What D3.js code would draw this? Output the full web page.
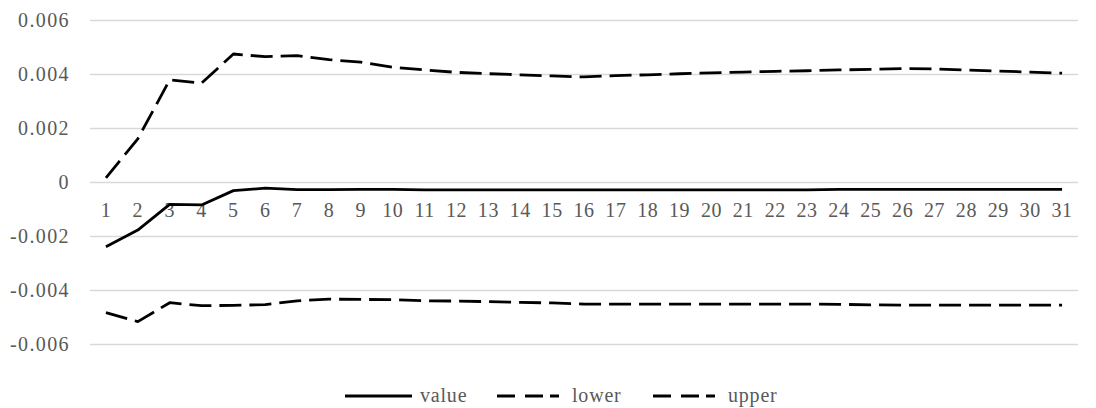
<!DOCTYPE html>
<html>
<head>
<meta charset="utf-8">
<script src="https://cdn.jsdelivr.net/npm/d3@7"></script>
<style>
  html, body { margin: 0; padding: 0; background: #fff; }
</style>
</head>
<body>
<svg id="chart" width="1096" height="408"></svg>
<script>
const categories = d3.range(1, 32).map(String);
const yTicks = [-0.006, -0.004, -0.002, 0, 0.002, 0.004, 0.006];
const yTickLabels = ["-0.006", "-0.004", "-0.002", "0", "0.002", "0.004", "0.006"];

const valueSeries = [-0.0024, -0.00178, -0.00083, -0.00085, -0.00032, -0.00023, -0.00028, -0.00028, -0.00027,
  -0.00027, -0.00029, -0.00029, -0.00029, -0.00029, -0.00029, -0.00029, -0.00029, -0.00029, -0.00029,
  -0.00029, -0.00029, -0.00029, -0.00029, -0.00027, -0.00027, -0.00027, -0.00027, -0.00027, -0.00027,
  -0.00027, -0.00027];
const lowerSeries = [-0.00484, -0.00517, -0.00447, -0.00458, -0.00457, -0.00454, -0.0044, -0.00434, -0.00435,
  -0.00436, -0.0044, -0.00441, -0.00443, -0.00446, -0.00448, -0.00452, -0.00452, -0.00452, -0.00452,
  -0.00452, -0.00452, -0.00452, -0.00452, -0.00453, -0.00455, -0.00456, -0.00456, -0.00456, -0.00456,
  -0.00456, -0.00456];
const upperSeries = [0.00015, 0.0016, 0.00378, 0.00366, 0.00474, 0.00464, 0.00468, 0.00453, 0.00444,
  0.00425, 0.00415, 0.00406, 0.00401, 0.00397, 0.00393, 0.00389, 0.00394, 0.00397, 0.00401,
  0.00404, 0.00407, 0.0041, 0.00412, 0.00415, 0.00417, 0.0042, 0.00419, 0.00415, 0.00411,
  0.00407, 0.00403];

const seriesNames = ["value", "lower", "upper"];
const seriesData = [valueSeries, lowerSeries, upperSeries];
const seriesDash = [null, "22,8", "22,8"];
const legendDash = [null, "18,10,18,7,9,10", "18,10,18,7,9,10"];

const FONT = '"Liberation Serif"';
const svg = d3.select("#chart");
const plotLeft = 90, plotRight = 1078, plotTop = 20, plotBottom = 344;

const x = d3.scaleBand().domain(categories).range([plotLeft, plotRight]).paddingInner(0).paddingOuter(0);
const y = d3.scaleLinear().domain([-0.006, 0.006]).range([plotBottom, plotTop]);

// gridlines + y labels
const yAxis = d3.axisLeft(y).tickValues(yTicks).tickSize(-(plotRight - plotLeft))
  .tickFormat((d, i) => yTickLabels[i]).tickPadding(20);
const gy = svg.append("g").attr("transform", `translate(${plotLeft},0)`).call(yAxis)
  .attr("font-family", null).attr("font-size", null);
gy.select(".domain").remove();
gy.selectAll(".tick line").attr("stroke", "#d9d9d9").attr("stroke-width", 1.3);
gy.selectAll(".tick text")
  .style("font-family", FONT).style("fill", "#595959")
  .style("font-size", "20px").attr("letter-spacing", 1.4).attr("dy", "0.32em");

// x axis labels placed at y=0
const xAxis = d3.axisBottom(x).tickSize(0).tickPadding(20.5);
const gx = svg.append("g").attr("transform", `translate(0,${y(0)})`).call(xAxis)
  .attr("font-family", null).attr("font-size", null);
gx.select(".domain").remove();
gx.selectAll(".tick text")
  .style("font-family", FONT).style("fill", "#595959")
  .style("font-size", "20px").attr("letter-spacing", 0.6);

// lines
const line = d3.line().x((d, i) => x(categories[i]) + x.bandwidth() / 2).y(d => y(d));
seriesData.forEach((s, k) => {
  svg.append("path").datum(s)
    .attr("d", line)
    .attr("fill", "none")
    .attr("stroke", "#000")
    .attr("stroke-width", 2.8)
    .attr("stroke-linejoin", "round")
    .attr("stroke-dasharray", seriesDash[k]);
});

// legend
const legendX = [345, 497, 653];
const legendY = 396;
const lg = svg.append("g");
seriesNames.forEach((name, k) => {
  lg.append("line").attr("x1", legendX[k]).attr("x2", legendX[k] + 67)
    .attr("y1", legendY).attr("y2", legendY)
    .attr("stroke", "#000").attr("stroke-width", 2.8)
    .attr("stroke-dasharray", legendDash[k]);
  lg.append("text").attr("x", legendX[k] + 75).attr("y", legendY).attr("dy", "0.3em")
    .style("font-family", FONT).style("fill", "#595959")
    .style("font-size", "20px").attr("letter-spacing", 0.8).text(name);
});
</script>
</body>
</html>
